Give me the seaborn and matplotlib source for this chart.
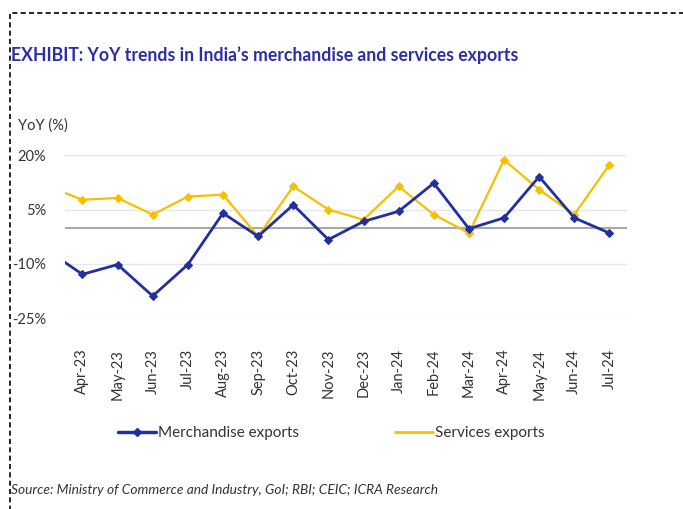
import matplotlib
matplotlib.use("Agg")
import matplotlib.pyplot as plt
import seaborn as sns
import pandas as pd
from matplotlib.patches import Rectangle
from matplotlib.lines import Line2D

months = ["Mar-23", "Apr-23", "May-23", "Jun-23", "Jul-23", "Aug-23", "Sep-23",
          "Oct-23", "Nov-23", "Dec-23", "Jan-24", "Feb-24", "Mar-24", "Apr-24",
          "May-24", "Jun-24", "Jul-24"]
merchandise = [-6.3, -12.9, -10.2, -18.9, -10.2, 4.0, -2.4, 6.3, -3.3, 1.7,
               4.5, 12.3, -0.3, 2.7, 14.1, 2.7, -1.5]
services = [11.5, 7.7, 8.2, 3.6, 8.6, 9.1, -2.4, 11.4, 5.0, 2.2,
            11.4, 3.6, -1.5, 18.7, 10.5, 3.6, 17.4]
series_names = ["Merchandise exports", "Services exports"]
yticks = [-25, -10, 5, 20]

BLUE = "#22309E"
GOLD = "#F5C000"

df = pd.DataFrame({
    "month": months * 2,
    "yoy": merchandise + services,
    "series": [series_names[0]] * len(months) + [series_names[1]] * len(months),
})

sns.set_theme(style="white")
plt.rcParams["font.family"] = ["Lato", "DejaVu Sans"]

fig = plt.figure(figsize=(6.83, 5.09), dpi=100)
ax = fig.add_axes([0.095, 0.375, 0.823, 0.32])

sns.lineplot(data=df[df.series == series_names[1]], x="month", y="yoy",
             color=GOLD, lw=1.6, marker="D", markersize=4,
             markeredgecolor=GOLD, ax=ax, sort=False)
sns.lineplot(data=df[df.series == series_names[0]], x="month", y="yoy",
             color=BLUE, lw=2.0, marker="D", markersize=4.5,
             markeredgecolor=BLUE, ax=ax, sort=False)

ax.set_xlim(0.5, len(months) - 0.5)
ax.set_ylim(-25, 20)
ax.set_yticks(yticks)
ax.set_yticklabels([f"{t}%" for t in yticks], fontsize=10.5, color="#333333")
ax.set_xticks(range(1, len(months)))
ax.set_xticklabels(months[1:], rotation=90, fontsize=10.5, color="#333333")
ax.tick_params(axis="x", length=0, pad=22)
ax.tick_params(axis="y", length=0, pad=13.5)
ax.set_xlabel("")
ax.set_ylabel("")
for s in ax.spines.values():
    s.set_visible(False)
for t in yticks:
    ax.axhline(t, color="#E4E6EE", lw=1.0, zorder=0)
ax.axhline(0, color="#A8A8A8", lw=1.5, zorder=1)
if ax.legend_:
    ax.legend_.remove()

fig.text(0.016, 0.892, "EXHIBIT: YoY trends in India\u2019s merchandise and services exports",
         fontsize=12.7, fontweight="bold", color="#2B2FA4", va="center", ha="left")
fig.text(0.026, 0.754, "YoY (%)", fontsize=10.5, color="#333333", va="center", ha="left")
fig.text(0.016, 0.037, "Source: Ministry of Commerce and Industry, GoI; RBI; CEIC; ICRA Research",
         fontsize=9.9, style="italic", color="#333333", va="center", ha="left")

handles = [Line2D([], [], color=BLUE, lw=2.5, marker="D", markersize=4),
           Line2D([], [], color=GOLD, lw=2.0)]
fig.legend(handles, series_names, loc="center", bbox_to_anchor=(0.485, 0.149),
           ncol=2, frameon=False, fontsize=11, handlelength=2.5, handletextpad=0.1,
           columnspacing=6.3, labelcolor="#333333")

fig.add_artist(Rectangle((0.0146, -0.1), 1.2, 1.074, transform=fig.transFigure,
                         fill=False, ec="black", lw=1.2, ls=(0, (3, 2))))

fig.savefig("out.png", dpi=100, facecolor="white")
